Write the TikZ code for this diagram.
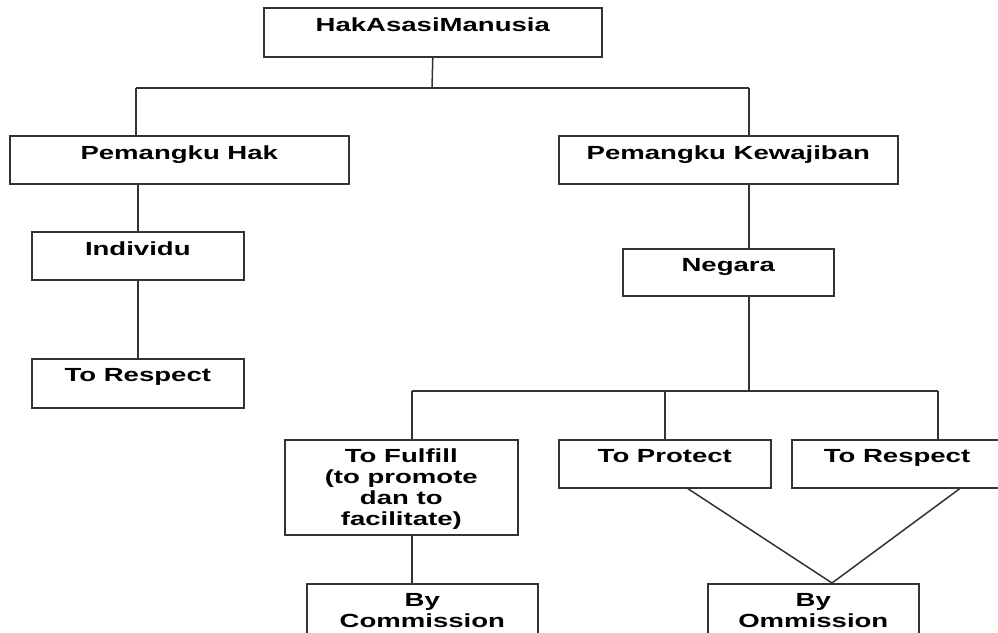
\documentclass[tikz,border=0pt]{standalone}
\usepackage{fontspec}
\setmainfont{Liberation Sans}[FakeStretch=1.45]
\begin{document}
\begin{tikzpicture}[x=1pt,y=-1pt,
  box/.style={draw=black!80, line width=1.6pt, inner sep=0pt, anchor=north west, fill=white},
  lbl/.style={font=\fontsize{19}{21}\selectfont\bfseries, align=center, inner sep=0pt, anchor=north, text=black},
  wire/.style={draw=black!80, line width=1.5pt}]
\clip (0,0) rectangle (998,632);
\fill[white] (0,0) rectangle (998,632);
% boxes
\node[box, minimum width=338pt, minimum height=49pt] (top)  at (263,7) {};
\node[box, minimum width=339pt, minimum height=48pt] (hak)  at (9,135) {};
\node[box, minimum width=339pt, minimum height=48pt] (kew)  at (558,135) {};
\node[box, minimum width=212pt, minimum height=48pt] (ind)  at (31,231) {};
\node[box, minimum width=212pt, minimum height=49pt] (resL) at (31,358) {};
\node[box, minimum width=211pt, minimum height=47pt] (neg)  at (622,248) {};
\node[box, minimum width=233pt, minimum height=95pt] (ful)  at (284,439) {};
\node[box, minimum width=212pt, minimum height=48pt] (pro)  at (558,439) {};
\node[box, minimum width=215pt, minimum height=48pt] (resR) at (791,439) {};
\node[box, minimum width=231pt, minimum height=60pt] (com)  at (306,583) {};
\node[box, minimum width=211pt, minimum height=60pt] (omm)  at (707,583) {};
% labels
\node[lbl] (tTop)  at ([yshift=-11pt]top.north) {HakAsasiManusia};
\node[lbl] (tHak)  at ([yshift=-11pt]hak.north) {Pemangku Hak};
\node[lbl] (tKew)  at ([yshift=-11pt]kew.north) {Pemangku Kewajiban};
\node[lbl] (tInd)  at ([yshift=-11pt]ind.north) {Individu};
\node[lbl] (tResL) at ([yshift=-10pt]resL.north) {To Respect};
\node[lbl] (tNeg)  at ([yshift=-10pt]neg.north) {Negara};
\node[lbl] (tFul)  at ([yshift=-10pt]ful.north) {To Fulfill\\(to promote\\dan to\\facilitate)};
\node[lbl] (tPro)  at ([yshift=-10pt]pro.north) {To Protect};
\node[lbl] (tResR) at (897,449) {To Respect};
\node[lbl] (tCom)  at ([yshift=-10pt]com.north) {By\\Commission};
\node[lbl] (tOmm)  at ([yshift=-10pt]omm.north) {By\\Ommission};
% connectors, upper tree
\coordinate (busA) at (432,88);
\coordinate (bL) at (136,88);
\coordinate (bR) at (749,88);
\draw[wire] (top.south) -- (busA);
\draw[wire] (bL) -- (bR);
\draw[wire] (bL) -- (bL |- hak.north);
\draw[wire] (bR) -- (bR |- kew.north);
\draw[wire] (ind.north |- hak.south) -- (ind.north);
\draw[wire] (ind.south) -- (resL.north);
\draw[wire] (bR |- kew.south) -- (bR |- neg.north);
% lower tree
\coordinate (b2M) at (749,391);
\coordinate (b2L) at (412,391);
\coordinate (b2R) at (938,391);
\draw[wire] (bR |- neg.south) -- (b2M);
\draw[wire] (b2L) -- (b2R);
\draw[wire] (b2L) -- (b2L |- ful.north);
\draw[wire] (pro.north |- b2L) -- (pro.north);
\draw[wire] (b2R) -- (b2R |- resR.north);
\draw[wire] (b2L |- ful.south) -- (b2L |- com.north);
\coordinate (pd) at ([xshift=23pt]pro.south);
\coordinate (rd) at ([xshift=60.5pt]resR.south);
\coordinate (apex) at (832,583);
\draw[wire] (pd) -- (apex) -- (rd);
\end{tikzpicture}
\end{document}
